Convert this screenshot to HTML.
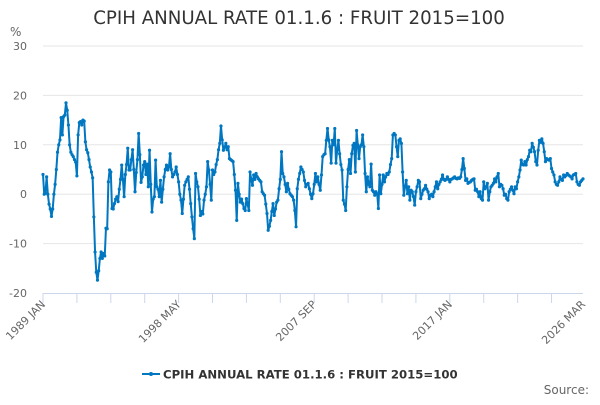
<!DOCTYPE html>
<html><head><meta charset="utf-8"><style>
body{margin:0;background:#fff;font-family:"Liberation Sans","DejaVu Sans",sans-serif}
svg text{font-family:"DejaVu Sans","Liberation Sans",sans-serif}
</style></head><body>
<svg id="chart" width="600" height="400" xmlns="http://www.w3.org/2000/svg">
<rect width="600" height="400" fill="#fff"/>
<text x="299" y="24" text-anchor="middle" font-size="18.2" fill="#333">CPIH ANNUAL RATE 01.1.6 : FRUIT 2015=100</text>
<text x="10" y="36" font-size="12" fill="#666">%</text>
<g id="grid"></g><g id="xaxis"></g><g id="series"></g>
<g>
<line x1="142" y1="374" x2="160" y2="374" stroke="#0077c0" stroke-width="2"/>
<circle cx="151" cy="374" r="2" fill="#0077c0"/>
<text x="163" y="378.5" font-size="11.7" font-weight="bold" fill="#333">CPIH ANNUAL RATE 01.1.6 : FRUIT 2015=100</text>
</g>
<text x="589" y="394" text-anchor="end" font-size="12" fill="#666">Source:</text>
</svg>
<script>
const yTicks=[-20,-10,0,10,20,30];
const xLabelMonths=[0,112,224,336,446];
const xLabels=["1989 JAN","1998 MAY","2007 SEP","2017 JAN","2026 MAR"];
const values=[4,0,0.2,3.5,0,-2,-3,-4.5,-3,0,2,5,
8.5,10,11,15.5,12,15.7,16,18.5,17,14,10,8.5,8,7.6,7,6.5,3.7,12,14.5,14.7,14,15,14.8,10.6,9,8.4,7,5.5,4.5,3.3,-4.6,-11.7,-15.8,-17.4,-15.5,-13,-11.7,-13,-12,-12.5,-6.9,-7,2.5,4.9,4.5,-2.9,-3,-1.9,-1,-0.5,-1.5,1,3,5.9,3,-0.5,4,6,9.3,4.9,4.9,7,9,5,0.5,4.4,7,12.3,8,2.4,3.5,5.9,6.6,4,6.1,1.5,8.9,2,-3.6,-1,-0.5,6.9,1.5,1,-0.5,2.8,-1.6,1,3.5,5,5.9,4.9,5.5,8.2,5,3.5,4,4.5,5.5,4,2.5,0,-1.2,-3.9,-1,1.8,2.5,3,3.5,1,-1.9,-4.6,-7,-9,4.2,2.5,1.5,-1,-4.3,-3.5,-4,-1.2,0,1.5,6.6,4.9,2,-1.2,4.9,4,4.5,6,7,9,10.3,13.8,11,8.9,9.5,10.3,9,9.6,7.2,7,6.8,6.6,4,0.8,-5.3,2.2,0,-1.6,-1,-1.9,-2.9,-3.3,-0.9,-2,-3.3,4.5,3,1.8,3.9,3,4.2,3.5,3.1,2.8,2.5,0.5,0.1,-0.2,-2,-3.9,-7.3,-6.5,-5.3,-3.5,-1.9,-4.3,-3,-1.6,-1.2,1.1,3,8.6,4.2,3.5,2,0.5,2.2,1,0.1,-0.2,-0.5,-1.2,-3.3,-6.6,1.1,3,4.2,5.5,5,4.5,2.8,1.5,2,2.2,1.1,0,-0.9,0.1,2,4.2,2.5,3.5,2,0.8,3.9,7.6,8,8.2,10.9,13.3,11,9.6,6.3,10.9,10,13.3,6.3,9,10.9,8.2,6,4.9,-1.2,-2,-3.3,1.5,5,7,4.2,8.2,9.9,10.3,4.5,12.9,10,7.2,9.6,10,12,9.6,4.2,0.5,3.5,2,1.5,6.1,0.8,0.5,-0.2,0.5,0.1,-2.9,3.9,0.1,2,3.9,2.5,3.5,4.2,4,4.5,6,7.2,12,12.3,12,9.6,7.6,10.9,11.2,10.3,4.5,-0.2,1.5,2.8,0.1,1.5,-1.2,0.8,0.5,-0.5,-2.2,0.5,1.5,2.8,2.5,-0.9,0,0.8,1.1,1.8,1,0.5,-0.9,-0.2,0,-0.5,0.5,1.5,2.5,1.1,2,2.5,3,3.9,3,2.8,3,3.5,3,2.5,3,3.1,3.3,3.5,3.2,3.1,3.3,3.2,3.5,5,7.2,5.2,2.8,3.1,2.2,2.4,2.5,2.8,3,3.1,0.8,1,0.5,-0.5,0.5,-0.9,-1.2,2.5,1.1,1.5,2.2,-1.2,0.5,1.5,1.8,2.2,3.1,2.5,3.5,4.2,1.5,2,1.8,1.1,-0.2,0,-0.9,-1.2,0.5,1,1.5,0.8,0.1,1.5,1.1,2.5,3.5,4.9,6.9,6,5.9,6.6,5.9,7,7.6,8.9,8.6,10.3,9.5,8.6,6.6,5.9,8.9,10.9,10.5,11.2,10.3,8.6,6.6,7.2,7,6.9,7.2,5.2,4.5,3.9,2.5,2,1.8,2.5,3.5,3,2.8,3.9,3.5,3.8,4.2,3.9,3.7,3.5,3.1,3.9,4,4.2,2.5,2,1.8,2.5,2.8,3.1];
const NS="http://www.w3.org/2000/svg";
const X0=43,X1=583,Y0=293,Y1=46,NM=446;
const xs=m=>X0+(X1-X0)*m/NM;
const ys=v=>Y0-(Y0-Y1)*(v-(-20))/50;
function mk(t,a,p){const e=document.createElementNS(NS,t);for(const k in a)e.setAttribute(k,a[k]);p.appendChild(e);return e;}
const grid=document.getElementById('grid');
yTicks.forEach(v=>{
 if(v!==-20){const l=mk('line',{x1:X0,x2:X1,y1:ys(v),y2:ys(v),stroke:'#e6e6e6','stroke-width':1},grid);
 
 }
 const t=mk('text',{x:27,y:ys(v)+4,'text-anchor':'end','font-size':11,fill:'#666'},grid);
 t.textContent=v;
 
 
});
const xa=document.getElementById('xaxis');
const ax=mk('line',{x1:X0,x2:X1,y1:Y0+0.5,y2:Y0+0.5,stroke:'#ccd6eb','stroke-width':1},xa);


for(let m=0;m<=NM;m+=28){const tk=mk('line',{x1:xs(m),x2:xs(m),y1:Y0,y2:Y0+10,stroke:'#ccd6eb'},xa);
 
 }
xLabelMonths.forEach((m,i)=>{
 const x=xs(m)+3,y=Y0+12;
 const t=mk('text',{x:x,y:y,'text-anchor':'end','font-size':11,fill:'#666',transform:`rotate(-45 ${x} ${y})`},xa);
 t.textContent=xLabels[i];
 
 
});
const s=document.getElementById('series');
const pts=values.map((v,i)=>xs(i).toFixed(2)+','+ys(v).toFixed(2)).join(' ');
const pl=mk('polyline',{points:pts,fill:'none',stroke:'#0077c0','stroke-width':2,'stroke-linejoin':'round'},s);


values.forEach((v,i)=>{const c=mk('circle',{cx:xs(i),cy:ys(v),r:1.6,fill:'#0077c0'},s);
 
 });
</script>
</body></html>
